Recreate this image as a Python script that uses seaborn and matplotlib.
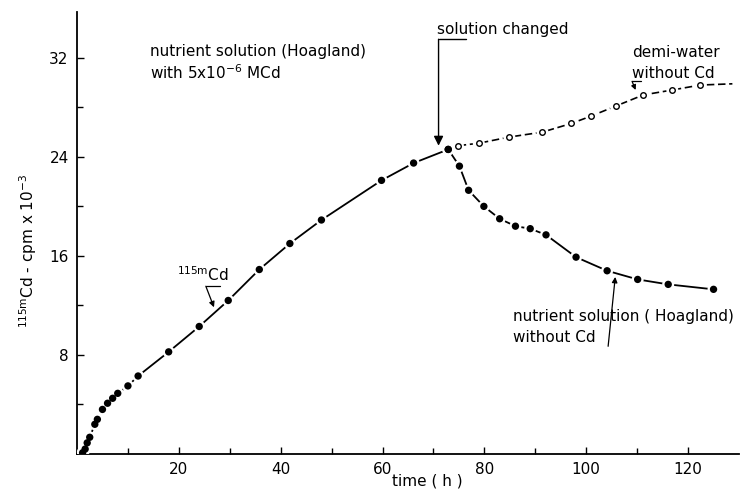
import matplotlib
matplotlib.use("Agg")
import matplotlib.pyplot as plt
import seaborn as sns

# uptake in nutrient solution with Cd (h, cpm x 10^-3)
uptake_time = [1.1, 1.6, 2.0, 2.5, 3.5, 4.0, 5.0, 6.0, 7.0, 8.0, 10.0, 12.0,
               18.0, 24.0, 29.7, 35.8, 41.8, 48.0, 59.8, 66.1, 72.9]
uptake_val = [0.1, 0.4, 0.9, 1.35, 2.4, 2.8, 3.6, 4.1, 4.5, 4.9, 5.5, 6.3,
              8.25, 10.3, 12.4, 14.9, 17.0, 18.9, 22.1, 23.5, 24.6]

# after change: nutrient solution without Cd
hoag_time = [72.9, 75.1, 76.9, 79.9, 83.0, 86.1, 89.0, 92.1, 98.0, 104.1,
             110.1, 116.1, 125.0]
hoag_val = [24.6, 23.25, 21.3, 20.0, 19.0, 18.4, 18.2, 17.7, 15.9, 14.8,
            14.1, 13.7, 13.3]

# after change: demi-water without Cd
demi_time = [74.8, 78.9, 84.9, 91.4, 97.1, 101.0, 105.8, 111.2, 116.9, 122.4]
demi_val = [24.9, 25.1, 25.6, 26.0, 26.7, 27.3, 28.1, 29.0, 29.4, 29.8]
demi_line_time = [72.9] + demi_time + [128.7]
demi_line_val = [24.6] + demi_val + [29.9]

x_major = [20, 40, 60, 80, 100, 120]
x_minor = [10, 30, 50, 70, 90, 110]
y_major = [8, 16, 24, 32]
y_minor = [4, 12, 20, 28]

sns.set_style("ticks")
plt.rcParams['font.family'] = ['DejaVu Sans']
plt.rcParams['mathtext.default'] = 'regular'
plt.rcParams['xtick.direction'] = 'in'
plt.rcParams['ytick.direction'] = 'in'
plt.rcParams['text.color'] = 'black'
plt.rcParams['axes.labelcolor'] = 'black'
plt.rcParams['xtick.color'] = 'black'
plt.rcParams['ytick.color'] = 'black'
plt.rcParams['axes.edgecolor'] = 'black'

fig = plt.figure(figsize=(7.52, 4.98), dpi=100)
ax = fig.add_axes([77 / 752, 1 - 454 / 498, 662 / 752, 442 / 498])

lw = 1.3
sns.lineplot(x=uptake_time, y=uptake_val, ax=ax, color='black', lw=lw, sort=False)
sns.lineplot(x=hoag_time, y=hoag_val, ax=ax, color='black', lw=lw, sort=False)
sns.lineplot(x=demi_line_time, y=demi_line_val, ax=ax, color='black', lw=1.2,
             sort=False, dashes=False, linestyle=(0, (4.5, 2.2)))

# white halos break the line around each point
for xs, ys in [(uptake_time, uptake_val), (hoag_time, hoag_val), (demi_time, demi_val)]:
    sns.scatterplot(x=xs, y=ys, ax=ax, s=75, color='white', edgecolor='none', zorder=3)
for xs, ys in [(uptake_time, uptake_val), (hoag_time, hoag_val)]:
    sns.scatterplot(x=xs, y=ys, ax=ax, s=28, color='black', edgecolor='none', zorder=4)
sns.scatterplot(x=demi_time, y=demi_val, ax=ax, s=16, color='white',
                edgecolor='black', linewidth=1.0, zorder=4)

ax.set_xlim(0, 130)
ax.set_ylim(0, 35.7)
ax.set_xticks(x_major)
ax.set_xticks(x_minor, minor=True)
ax.set_yticks(y_major)
ax.set_yticks(y_minor, minor=True)
ax.tick_params(which='major', length=5, width=1.0, labelsize=11, pad=6)
ax.tick_params(which='minor', length=4, width=1.0)
sns.despine(ax=ax)
for sp in ax.spines.values():
    sp.set_linewidth(1.3)

ax.set_xlabel('time ( h )', fontsize=11)
ax.xaxis.set_label_coords(0.529, -0.045)
ax.set_ylabel('$^{115m}$Cd - cpm x 10$^{-3}$', fontsize=11)
ax.yaxis.set_label_coords(-0.058, 0.46)

fs = 11
ax.text(14.3, 32.5, 'nutrient solution (Hoagland)', fontsize=fs, va='center')
ax.text(14.3, 30.8, 'with 5x10$^{-6}$ MCd', fontsize=fs, va='center')

ax.text(70.6, 34.3, 'solution changed', fontsize=fs, va='center')
ax.plot([76.3, 71.0], [33.5, 33.5], color='black', lw=1.0)
ax.annotate('', xy=(71.0, 24.9), xytext=(71.0, 33.5),
            arrowprops=dict(arrowstyle='-|>', color='black', lw=1.0,
                            mutation_scale=14, shrinkA=0, shrinkB=0))

ax.text(109.0, 32.4, 'demi-water', fontsize=fs, va='center')
ax.text(109.0, 30.7, 'without Cd', fontsize=fs, va='center')
ax.plot([110.8, 109.0], [30.1, 30.1], color='black', lw=0.9)
ax.annotate('', xy=(109.7, 29.4), xytext=(109.0, 30.1),
            arrowprops=dict(arrowstyle='-|>', color='black', lw=0.9,
                            mutation_scale=7, shrinkA=0, shrinkB=0))

ax.text(19.6, 13.7, '$^{115m}$Cd', fontsize=fs, va='bottom')
ax.plot([28.0, 25.3], [13.55, 13.55], color='black', lw=0.9)
ax.annotate('', xy=(26.9, 11.85), xytext=(25.3, 13.55),
            arrowprops=dict(arrowstyle='-|>', color='black', lw=0.9,
                            mutation_scale=8, shrinkA=0, shrinkB=0))

ax.text(85.7, 11.1, 'nutrient solution ( Hoagland)', fontsize=fs, va='center')
ax.text(85.7, 9.4, 'without Cd', fontsize=fs, va='center')
ax.annotate('', xy=(105.7, 14.3), xytext=(104.3, 8.7),
            arrowprops=dict(arrowstyle='-|>', color='black', lw=0.9,
                            mutation_scale=8, shrinkA=0, shrinkB=0))

fig.savefig('out.png', dpi=100)
